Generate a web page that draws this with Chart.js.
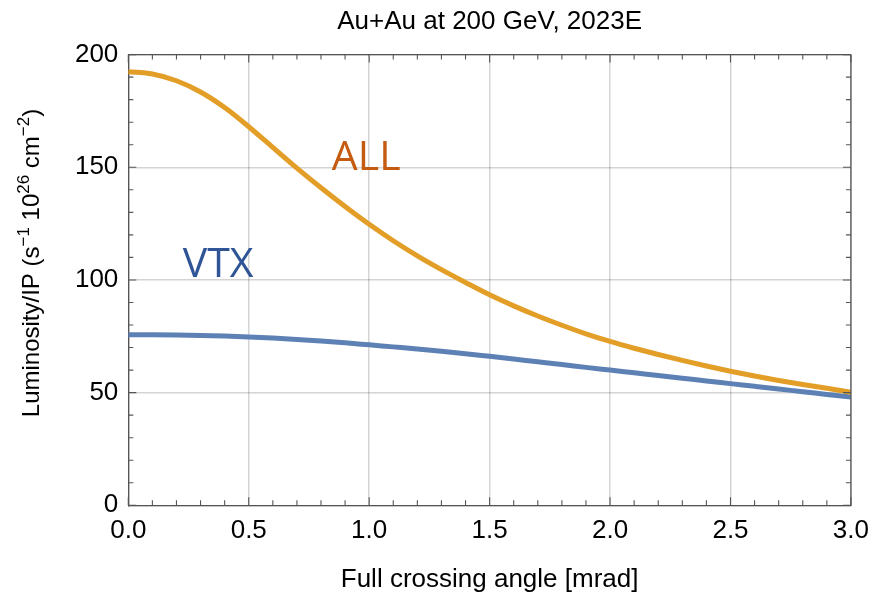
<!DOCTYPE html>
<html>
<head>
<meta charset="utf-8">
<title>Luminosity vs crossing angle</title>
<script src="https://cdn.jsdelivr.net/npm/chart.js@4.4.0/dist/chart.umd.min.js"></script>
<style>
  html, body { margin: 0; padding: 0; background: #ffffff; }
  #c { display: block; }
</style>
</head>
<body>
<canvas id="c" width="879" height="596" style="width:879px;height:596px"></canvas>
<script>
// Full crossing angle (mrad)
const angles = [0.0, 0.1, 0.2, 0.3, 0.4, 0.5, 0.6, 0.7, 0.8, 0.9,
                1.0, 1.1, 1.2, 1.3, 1.4, 1.5, 1.6, 1.7, 1.8, 1.9,
                2.0, 2.1, 2.2, 2.3, 2.4, 2.5, 2.6, 2.7, 2.8, 2.9, 3.0];

// Luminosity per IP, all collisions (1e26 cm^-2 s^-1)
const lumiAll = [192.4, 191.4, 188.4, 183.4, 176.5, 168.0, 158.8, 149.6, 140.9, 132.6,
                 124.7, 117.4, 110.7, 104.6, 98.9, 93.4, 88.5, 84.0, 79.9, 76.1,
                 72.7, 69.7, 66.9, 64.3, 61.8, 59.5, 57.4, 55.4, 53.6, 51.9, 50.2];

// Luminosity per IP inside the vertex region
const lumiVtx = [75.7, 75.7, 75.6, 75.4, 75.1, 74.7, 74.2, 73.6, 72.9, 72.1,
                 71.2, 70.3, 69.4, 68.4, 67.3, 66.1, 64.9, 63.7, 62.5, 61.2,
                 60.0, 58.8, 57.6, 56.4, 55.2, 54.0, 52.8, 51.6, 50.4, 49.2, 48.0];

// Labelled axis ticks
const xTickValues = [0.0, 0.5, 1.0, 1.5, 2.0, 2.5, 3.0];
const yTickValues = [0, 50, 100, 150, 200];

// In-plot series tags: text, anchor (data units), colour
const seriesTags = [
  { text: 'ALL', x: 0.845, y: 149.0, color: '#C55A11' },
  { text: 'VTX', x: 0.226, y: 101.2, color: '#2F5597' }
];

const FONT = "'Liberation Sans', Arial, sans-serif";
const FRAME = '#555555';

const toPoints = (xs, ys) => xs.map((x, i) => ({ x: x, y: ys[i] }));

// Frame on all four sides with inward major/minor ticks, rotated y title with
// superscripts, and the in-plot series tags.
const framePlugin = {
  id: 'frameDecor',
  afterDraw(chart) {
    const ctx = chart.ctx;
    const xs = chart.scales.x, ys = chart.scales.y;
    const a = chart.chartArea;
    ctx.save();
    ctx.strokeStyle = FRAME;
    ctx.lineWidth = 1.3;
    ctx.beginPath();
    ctx.moveTo(a.left, a.top); ctx.lineTo(a.right, a.top);
    ctx.moveTo(a.right, a.top); ctx.lineTo(a.right, a.bottom);
    ctx.stroke();

    ctx.lineWidth = 1.1;
    ctx.beginPath();
    for (let i = 0; i <= 30; i++) {
      const px = xs.getPixelForValue(i / 10);
      const len = (i % 5 === 0) ? 8 : 5;
      ctx.moveTo(px, a.bottom); ctx.lineTo(px, a.bottom - len);
      ctx.moveTo(px, a.top); ctx.lineTo(px, a.top + len);
    }
    for (let v = 0; v <= 200; v += 10) {
      const py = ys.getPixelForValue(v);
      const len = (v % 50 === 0) ? 8 : 5;
      ctx.moveTo(a.left, py); ctx.lineTo(a.left + len, py);
      ctx.moveTo(a.right, py); ctx.lineTo(a.right - len, py);
    }
    ctx.stroke();

    // y axis title, reading bottom to top
    const parts = [
      ['Luminosity/IP (s', false], ['\u22121', true], [' 10', false],
      ['26', true], [' cm', false], ['\u22122', true], [')', false]
    ];
    const base = '24px ' + FONT, sup = '17px ' + FONT;
    let total = 0;
    parts.forEach(p => { ctx.font = p[1] ? sup : base; total += ctx.measureText(p[0]).width; });
    ctx.translate(39, 263);
    ctx.rotate(-Math.PI / 2);
    ctx.fillStyle = '#000';
    ctx.textBaseline = 'alphabetic';
    ctx.textAlign = 'left';
    let cx = -total / 2;
    parts.forEach(p => {
      ctx.font = p[1] ? sup : base;
      ctx.fillText(p[0], cx, p[1] ? -10 : 0);
      cx += ctx.measureText(p[0]).width;
    });
    ctx.restore();

    ctx.save();
    ctx.font = "41px 'Open Sans', sans-serif";
    ctx.textBaseline = 'alphabetic';
    ctx.textAlign = 'left';
    seriesTags.forEach(t => {
      ctx.fillStyle = t.color;
      ctx.fillText(t.text, xs.getPixelForValue(t.x), ys.getPixelForValue(t.y));
    });
    ctx.restore();
  }
};

new Chart(document.getElementById('c'), {
  type: 'line',
  data: {
    datasets: [
      {
        label: 'ALL',
        data: toPoints(angles, lumiAll),
        borderColor: '#E39E27',
        borderWidth: 5,
        pointRadius: 0,
        cubicInterpolationMode: 'monotone',
        fill: false
      },
      {
        label: 'VTX',
        data: toPoints(angles, lumiVtx),
        borderColor: '#5E81B5',
        borderWidth: 5,
        pointRadius: 0,
        cubicInterpolationMode: 'monotone',
        fill: false
      }
    ]
  },
  options: {
    responsive: false,
    animation: false,
    devicePixelRatio: 1,
    layout: { padding: { top: 0, right: 23.5, bottom: 0, left: 0 } },
    plugins: {
      legend: { display: false },
      tooltip: { enabled: false },
      title: {
        display: true,
        text: 'Au+Au at 200 GeV, 2023E',
        fullSize: false,
        color: '#000',
        font: { family: FONT, size: 26, weight: 'normal' },
        padding: { top: 6, bottom: 17.4 }
      }
    },
    scales: {
      x: {
        type: 'linear',
        min: 0, max: 3,
        afterBuildTicks: s => { s.ticks = xTickValues.map(v => ({ value: v })); },
        afterFit: s => { s.height = 90.7; },
        ticks: {
          callback: v => Number(v).toFixed(1),
          color: '#000',
          font: { family: FONT, size: 26 },
          padding: 10,
          maxRotation: 0,
          autoSkip: false
        },
        grid: { color: 'rgba(0,0,0,0.17)', lineWidth: 1.5, drawTicks: false },
        border: { display: true, color: FRAME, width: 1.3 },
        title: {
          display: true,
          text: 'Full crossing angle [mrad]',
          color: '#000',
          font: { family: FONT, size: 26 },
          padding: { top: 0, bottom: 1 }
        }
      },
      y: {
        type: 'linear',
        min: 0, max: 200,
        afterBuildTicks: s => { s.ticks = yTickValues.map(v => ({ value: v })); },
        afterFit: s => { s.width = 128.3; },
        ticks: {
          color: '#000',
          font: { family: FONT, size: 26 },
          padding: 10,
          autoSkip: false
        },
        grid: { color: 'rgba(0,0,0,0.17)', lineWidth: 1.5, drawTicks: false },
        border: { display: true, color: FRAME, width: 1.3 }
      }
    }
  },
  plugins: [framePlugin]
});
</script>
</body>
</html>
